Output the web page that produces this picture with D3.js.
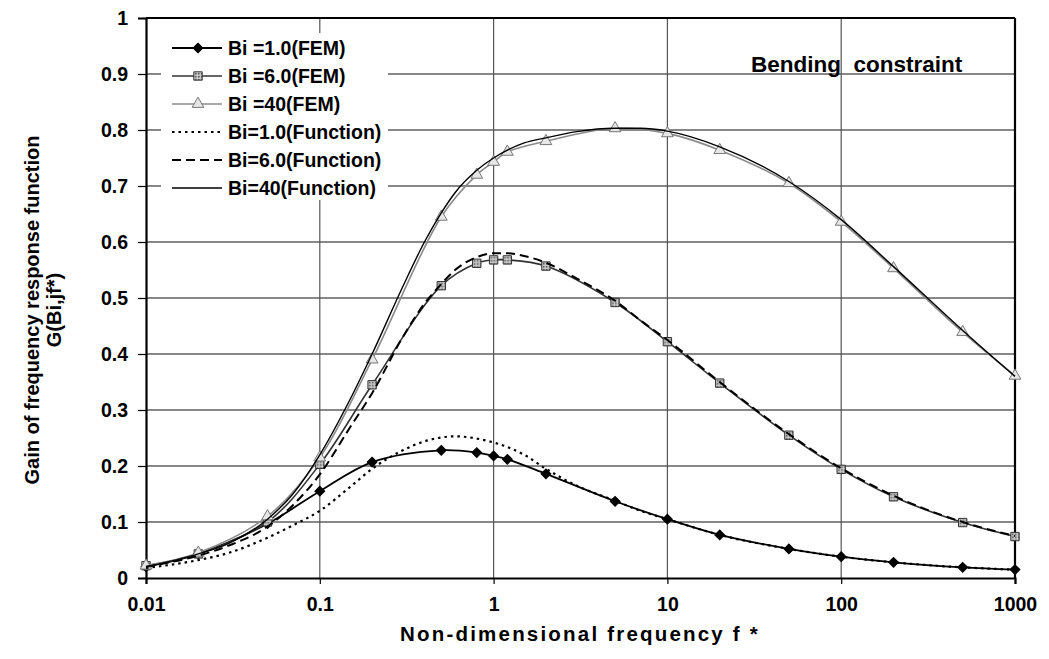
<!DOCTYPE html>
<html>
<head>
<meta charset="utf-8">
<script src="https://cdn.jsdelivr.net/npm/d3@7"></script>
<style>
  html, body { margin: 0; padding: 0; background: #fff; }
  svg text { font-family: "Liberation Sans", Arial, sans-serif; font-weight: bold; fill: #000; }
</style>
</head>
<body>
<svg id="chart" width="1049" height="659"></svg>
<script>
// FEM sample frequencies and gains
const freqFEM = [0.01, 0.02, 0.05, 0.1, 0.2, 0.5, 0.8, 1, 1.2, 2, 5, 10, 20, 50, 100, 200, 500, 1000];
const femBi1  = [0.020, 0.043, 0.097, 0.155, 0.207, 0.228, 0.224, 0.218, 0.212, 0.186, 0.137, 0.105, 0.077, 0.052, 0.038, 0.028, 0.019, 0.015];
const femBi6  = [0.022, 0.043, 0.100, 0.203, 0.345, 0.522, 0.562, 0.568, 0.568, 0.557, 0.492, 0.422, 0.348, 0.255, 0.194, 0.145, 0.099, 0.074];
const femBi40 = [0.022, 0.045, 0.110, 0.215, 0.390, 0.645, 0.720, 0.743, 0.761, 0.780, 0.803, 0.794, 0.764, 0.705, 0.636, 0.553, 0.439, 0.361];

// Approximating function evaluated on a denser frequency grid
const freqFn  = [0.01, 0.02, 0.03, 0.05, 0.07, 0.1, 0.15, 0.2, 0.3, 0.4, 0.5, 0.6, 0.8, 1, 1.2, 1.5, 2, 3, 5, 7, 10, 20, 50, 100, 200, 500, 1000];
const fnBi1   = [0.018, 0.032, 0.045, 0.072, 0.094, 0.120, 0.163, 0.195, 0.228, 0.244, 0.251, 0.253, 0.249, 0.242, 0.234, 0.220, 0.195, 0.165, 0.138, 0.120, 0.105, 0.077, 0.052, 0.038, 0.028, 0.019, 0.015];
const fnBi6   = [0.020, 0.040, 0.058, 0.092, 0.130, 0.185, 0.270, 0.330, 0.430, 0.490, 0.525, 0.550, 0.573, 0.580, 0.580, 0.575, 0.563, 0.535, 0.495, 0.460, 0.425, 0.350, 0.257, 0.196, 0.147, 0.100, 0.075];
const fnBi40  = [0.020, 0.043, 0.062, 0.105, 0.150, 0.220, 0.320, 0.400, 0.520, 0.600, 0.652, 0.688, 0.728, 0.750, 0.764, 0.777, 0.786, 0.797, 0.803, 0.803, 0.798, 0.770, 0.708, 0.640, 0.556, 0.442, 0.360];

const xTicks = [0.01, 0.1, 1, 10, 100, 1000];
const xTickLabels = ["0.01", "0.1", "1", "10", "100", "1000"];
const yTicks = [0, 0.1, 0.2, 0.3, 0.4, 0.5, 0.6, 0.7, 0.8, 0.9, 1];
const yTickLabels = ["0", "0.1", "0.2", "0.3", "0.4", "0.5", "0.6", "0.7", "0.8", "0.9", "1"];

const legendLabels = ["Bi =1.0(FEM)", "Bi =6.0(FEM)", "Bi =40(FEM)",
                      "Bi=1.0(Function)", "Bi=6.0(Function)", "Bi=40(Function)"];

const svg = d3.select("#chart");
const plot = { left: 146, right: 1015, top: 18, bottom: 578 };

const x = d3.scaleLog().domain([0.01, 1000]).range([plot.left, plot.right]);
const y = d3.scaleLinear().domain([0, 1]).range([plot.bottom, plot.top]);

// gridlines
const grid = svg.append("g");
grid.selectAll("line.h").data(yTicks.slice(1, -1)).join("line")
  .attr("x1", plot.left).attr("x2", plot.right)
  .attr("y1", d => y(d)).attr("y2", d => y(d))
  .attr("stroke", "#111").attr("stroke-width", 1.2);
grid.selectAll("line.v").data(xTicks.slice(1, -1)).join("line")
  .attr("y1", plot.top).attr("y2", plot.bottom)
  .attr("x1", d => x(d)).attr("x2", d => x(d))
  .attr("stroke", "#555").attr("stroke-width", 1.2);

// axes
const xAxis = d3.axisBottom(x).tickValues(xTicks).tickFormat((d, i) => xTickLabels[i]).tickSizeOuter(0).tickSize(6).tickPadding(13);
const yAxis = d3.axisLeft(y).tickValues(yTicks).tickFormat((d, i) => yTickLabels[i]).tickSizeOuter(0).tickSize(8).tickPadding(10);

const gx = svg.append("g").attr("transform", `translate(0,${plot.bottom})`).call(xAxis);
const gy = svg.append("g").attr("transform", `translate(${plot.left},0)`).call(yAxis);
[gx, gy].forEach(g => {
  g.select(".domain").attr("stroke", "#000").attr("stroke-width", 2.2);
  g.selectAll(".tick line").attr("stroke", "#000").attr("stroke-width", 1.2);
  g.selectAll(".tick text").attr("font-size", 19.5).attr("font-family", "'Liberation Sans', Arial, sans-serif").attr("font-weight", "bold").attr("fill", "#000");
});

// top and right frame
svg.append("line").attr("x1", plot.left).attr("x2", plot.right).attr("y1", plot.top).attr("y2", plot.top)
  .attr("stroke", "#000").attr("stroke-width", 2.2);
svg.append("line").attr("x1", plot.right).attr("x2", plot.right).attr("y1", plot.top).attr("y2", plot.bottom)
  .attr("stroke", "#000").attr("stroke-width", 2.2);

// marker patterns
const defs = svg.append("defs");
const pat = defs.append("pattern").attr("id", "sqfill").attr("patternUnits", "userSpaceOnUse")
  .attr("width", 3).attr("height", 3);
pat.append("rect").attr("width", 3).attr("height", 3).attr("fill", "#c8c8c8");
pat.append("rect").attr("width", 1.5).attr("height", 1.5).attr("fill", "#555");

const series = [
  { name: legendLabels[0], xs: freqFEM, ys: femBi1, stroke: "#000", width: 1.8, dash: null, marker: d3.symbolSquare, rot: 45, msize: 48, mfill: "#000", mstroke: "#000", curve: d3.curveCatmullRom.alpha(0.5) },
  { name: legendLabels[1], xs: freqFEM, ys: femBi6, stroke: "#333", width: 1.6, dash: null, marker: d3.symbolSquare, rot: 0, msize: 70, mfill: "url(#sqfill)", mstroke: "#333", curve: d3.curveCatmullRom.alpha(0.5) },
  { name: legendLabels[2], xs: freqFEM, ys: femBi40, stroke: "#8a8a8a", width: 1.6, dash: null, marker: d3.symbolTriangle, rot: 0, msize: 60, mfill: "#e6e6e6", mstroke: "#777", curve: d3.curveCatmullRom.alpha(0.5) },
  { name: legendLabels[3], xs: freqFn, ys: fnBi1, stroke: "#000", width: 2.2, dash: "2.5,4", marker: null, curve: d3.curveMonotoneX },
  { name: legendLabels[4], xs: freqFn, ys: fnBi6, stroke: "#000", width: 2, dash: "9,5", marker: null, curve: d3.curveMonotoneX },
  { name: legendLabels[5], xs: freqFn, ys: fnBi40, stroke: "#000", width: 1.4, dash: null, marker: null, curve: d3.curveMonotoneX }
];

const curves = svg.append("g");
series.forEach(s => {
  const pts = s.xs.map((f, i) => [f, s.ys[i]]);
  const line = d3.line().x(d => x(d[0])).y(d => y(d[1])).curve(s.curve);
  curves.append("path").datum(pts).attr("d", line)
    .attr("fill", "none").attr("stroke", s.stroke).attr("stroke-width", s.width)
    .attr("stroke-dasharray", s.dash);
  if (s.marker) {
    curves.selectAll(null).data(pts).join("path")
      .attr("transform", d => `translate(${x(d[0])},${y(d[1])}) rotate(${s.rot})`)
      .attr("d", d3.symbol().type(s.marker).size(s.msize))
      .attr("fill", s.mfill).attr("stroke", s.mstroke).attr("stroke-width", 1);
  }
});

// legend
const legend = svg.append("g");
legend.append("rect").attr("x", 161).attr("y", 33).attr("width", 227).attr("height", 167).attr("fill", "#fff");
series.forEach((s, i) => {
  const cy = 48 + i * 28;
  const g = legend.append("g").attr("transform", `translate(0,${cy})`);
  g.append("line").attr("x1", 172).attr("x2", 222).attr("y1", 0).attr("y2", 0)
    .attr("stroke", s.stroke).attr("stroke-width", s.width).attr("stroke-dasharray", s.dash);
  if (s.marker) {
    g.append("path").attr("transform", `translate(198,0) rotate(${s.rot})`)
      .attr("d", d3.symbol().type(s.marker).size(s.msize))
      .attr("fill", s.mfill).attr("stroke", s.mstroke).attr("stroke-width", 1);
  }
  g.append("text").attr("x", 228).attr("y", 0).attr("dy", "0.36em")
    .attr("font-size", 19.5).text(s.name);
});

// annotation
svg.append("text").attr("x", 751).attr("y", 72).attr("font-size", 22.5)
  .attr("xml:space", "preserve").style("white-space", "pre").text("Bending  constraint");

// axis titles
svg.append("text").attr("x", 580).attr("y", 641).attr("text-anchor", "middle")
  .attr("font-size", 20.5).attr("letter-spacing", 2.2).text("Non-dimensional frequency f *");
const yt = svg.append("text").attr("transform", "translate(0,310) rotate(-90)").attr("text-anchor", "middle").attr("font-size", 20);
yt.append("tspan").attr("x", 0).attr("y", 39).text("Gain of frequency response function");
yt.append("tspan").attr("x", 0).attr("y", 61).text("G(Bi,jf*)");
</script>
</body>
</html>
